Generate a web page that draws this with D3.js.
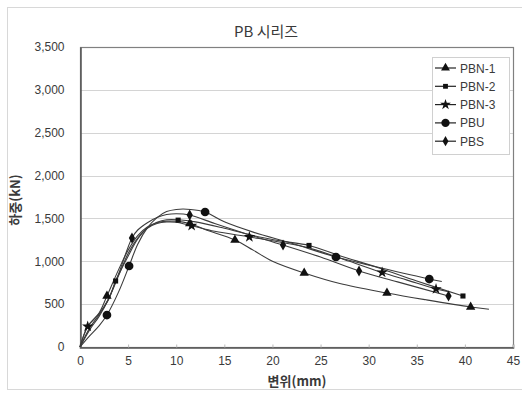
<!DOCTYPE html>
<html>
<head>
<meta charset="utf-8">
<script src="https://cdn.jsdelivr.net/npm/d3@7"></script>
<style>
  html, body { margin: 0; padding: 0; background: #fff; }
  svg { display: block; }
  text { font-family: "Liberation Sans", "Noto Sans CJK KR", sans-serif; fill: #3a3a3a; }
  .kr { font-family: "Noto Sans CJK KR", "Liberation Sans", sans-serif; }
</style>
</head>
<body>
<svg id="chart" width="522" height="393"></svg>
<script>
// ---------- data ----------
const chartTitle = "PB 시리즈";
const xTitle = "변위(mm)";
const yTitle = "하중(kN)";
const seriesNames = ["PBN-1", "PBN-2", "PBN-3", "PBU", "PBS"];
const markerShapes = ["triangle", "square", "star", "circle", "diamond"];
const xTicks = [0, 5, 10, 15, 20, 25, 30, 35, 40, 45];
const yTicks = [0, 500, 1000, 1500, 2000, 2500, 3000, 3500];

// line points [displacement mm, load kN]
const pbn1Line = [[0,0],[0.8,240],[2,400],[2.8,595],[4,900],[5,1130],[6,1300],[7,1400],[8,1450],[9,1468],[10,1468],[11.4,1440],[13,1370],[16.1,1249],[18,1130],[20,1000],[23.3,863],[27,740],[31.9,630],[36,550],[40.6,467],[42.5,440]];
const pbn2Line = [[0,0],[1,220],[2,380],[3,560],[3.7,770],[5,1060],[6,1260],[7,1390],[8,1455],[9,1485],[10.2,1485],[12,1460],[15,1385],[18,1300],[21,1235],[23.8,1185],[27,1065],[31,925],[35,770],[39.8,595]];
const pbn3Line = [[0,0],[0.8,240],[2,390],[3,570],[4,830],[5,1090],[6,1270],[7,1385],[8,1440],[9,1458],[10,1455],[11.6,1415],[14,1350],[17.6,1284],[21,1220],[24,1150],[28,1000],[31.4,870],[34,780],[37,677],[38.3,645]];
const pbuLine  = [[0,0],[1,130],[2,250],[2.8,373],[4,640],[5.1,945],[6,1200],[7,1390],[8,1510],[9,1580],[10,1605],[11.5,1605],[13,1575],[15,1460],[18,1340],[22,1210],[26.6,1050],[31,930],[36.3,793],[37.6,765]];
const pbsLine  = [[0,0],[1,200],[2,360],[3,570],[4,850],[5.4,1272],[6,1365],[7,1450],[8,1510],[9,1545],[10,1555],[11.4,1540],[14,1440],[17,1330],[21.1,1190],[25,1050],[29,887],[33,760],[38.3,595]];

// marker points [displacement mm, load kN]
const pbn1Marks = [[2.8,595],[11.4,1440],[16.1,1249],[23.3,863],[31.9,630],[40.6,467]];
const pbn2Marks = [[3.7,770],[10.2,1480],[23.8,1185],[39.8,595]];
const pbn3Marks = [[0.8,240],[11.6,1415],[17.6,1284],[31.4,870],[37,677]];
const pbuMarks  = [[2.8,373],[5.1,945],[13,1575],[26.6,1050],[36.3,793]];
const pbsMarks  = [[5.4,1272],[11.4,1540],[21.1,1190],[29,887],[38.3,595]];

const seriesLines = [pbn1Line, pbn2Line, pbn3Line, pbuLine, pbsLine];
const seriesMarks = [pbn1Marks, pbn2Marks, pbn3Marks, pbuMarks, pbsMarks];

// ---------- layout ----------
const svg = d3.select("#chart");
const W = 522, H = 393;
const plot = { left: 80, right: 513, top: 47, bottom: 347 };

// outer frame
svg.append("rect").attr("x", 7.5).attr("y", 7.5).attr("width", 520).attr("height", 382)
  .attr("fill", "none").attr("stroke", "#d8d8d8").attr("stroke-width", 1);

const x = d3.scaleLinear().domain([0, 45]).range([plot.left, plot.right]);
const y = d3.scaleLinear().domain([0, 3500]).range([plot.bottom, plot.top]);

// gridlines
svg.append("g").selectAll("line").data(yTicks.slice(1, -1)).join("line")
  .attr("x1", plot.left).attr("x2", plot.right)
  .attr("y1", d => Math.round(y(d)) + 0.5).attr("y2", d => Math.round(y(d)) + 0.5)
  .attr("stroke", "#d4d4d4").attr("stroke-width", 1);

// plot border
svg.append("rect")
  .attr("x", plot.left + 0.5).attr("y", plot.top + 0.5)
  .attr("width", plot.right - plot.left).attr("height", plot.bottom - plot.top)
  .attr("fill", "none").attr("stroke", "#808080").attr("stroke-width", 1.2);

// axes
const xAxis = d3.axisBottom(x).tickValues(xTicks).tickSize(-3).tickPadding(9).tickFormat(d3.format("d"));
const gx = svg.append("g").attr("transform", `translate(0,${plot.bottom + 0.5})`).call(xAxis);
gx.select(".domain").attr("stroke", "#555").attr("stroke-width", 1.5);
gx.selectAll(".tick line").attr("stroke", "#bbb");
gx.selectAll("text").attr("font-size", 12).attr("fill", "#3a3a3a");

const yAxis = d3.axisLeft(y).tickValues(yTicks).tickSize(0).tickPadding(16).tickFormat(d3.format(",d"));
const gy = svg.append("g").attr("transform", `translate(${plot.left + 0.5},0)`).call(yAxis);
gy.select(".domain").attr("stroke", "#555").attr("stroke-width", 1.5);
gy.selectAll("text").attr("font-size", 12).attr("fill", "#3a3a3a");

// titles
svg.append("text").attr("class", "kr").attr("x", 266).attr("y", 37)
  .attr("text-anchor", "middle").attr("font-size", 15).text(chartTitle);
svg.append("text").attr("class", "kr").attr("x", 297).attr("y", 386)
  .attr("text-anchor", "middle").attr("font-size", 13).attr("font-weight", "bold").text(xTitle);
svg.append("text").attr("class", "kr")
  .attr("transform", `translate(20,${(plot.top + plot.bottom) / 2 + 3}) rotate(-90)`)
  .attr("text-anchor", "middle").attr("font-size", 13).attr("font-weight", "bold").text(yTitle);

// markers
const symType = {
  triangle: d3.symbolTriangle, square: d3.symbolSquare, star: d3.symbolStar,
  circle: d3.symbolCircle, diamond: d3.symbolDiamond
};
const symSize = { triangle: 38, square: 26, star: 40, circle: 60, diamond: 34 };
function markerPath(shape, scale = 1) {
  return d3.symbol().type(symType[shape]).size(symSize[shape] * scale)();
}

// lines
const line = d3.line().x(d => x(d[0])).y(d => y(d[1])).curve(d3.curveCatmullRom.alpha(0.5));
const gLines = svg.append("g");
seriesLines.forEach((pts, i) => {
  gLines.append("path").datum(pts).attr("d", line)
    .attr("fill", "none").attr("stroke", "#3c3c3c").attr("stroke-width", 1.1);
});
const gMarks = svg.append("g");
seriesMarks.forEach((pts, i) => {
  gMarks.selectAll(null).data(pts).join("path")
    .attr("transform", d => `translate(${x(d[0])},${y(d[1])})`)
    .attr("d", markerPath(markerShapes[i]))
    .attr("fill", "#111");
});

// legend
const lg = svg.append("g");
lg.append("rect").attr("x", 432.5).attr("y", 57.5).attr("width", 77).attr("height", 97)
  .attr("fill", "#fff").attr("stroke", "#d0d0d0");
seriesNames.forEach((name, i) => {
  const cy = 68 + i * 18.3;
  lg.append("line").attr("x1", 435).attr("x2", 456).attr("y1", cy).attr("y2", cy)
    .attr("stroke", "#222").attr("stroke-width", 1.2);
  lg.append("path").attr("transform", `translate(445.5,${cy})`)
    .attr("d", markerPath(markerShapes[i], 0.9)).attr("fill", "#111");
  lg.append("text").attr("x", 460).attr("y", cy + 4.5).attr("font-size", 12).text(name);
});
</script>
</body>
</html>
